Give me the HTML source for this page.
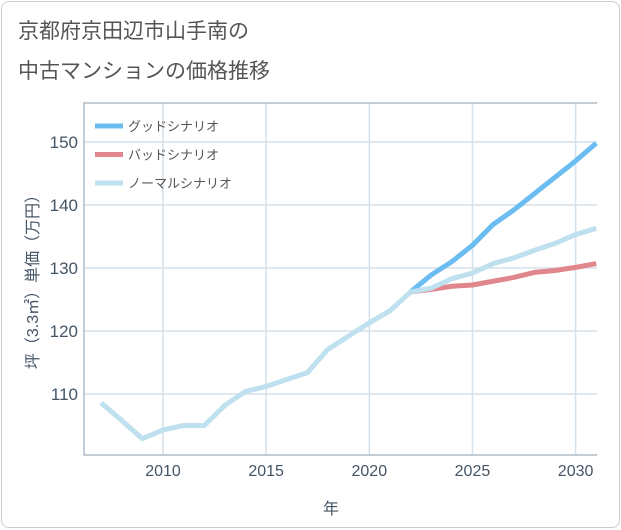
<!DOCTYPE html>
<html><head><meta charset="utf-8">
<style>
html,body{margin:0;padding:0;background:#fff;}
body{width:621px;height:530px;overflow:hidden;font-family:"Liberation Sans","Noto Sans CJK JP",sans-serif;}
.card{position:absolute;left:1px;top:1px;width:617px;height:525px;border:1px solid #ccc;border-radius:8px;background:#fff;}
</style></head>
<body>
<div class="card"></div>
<svg width="621" height="530" style="position:absolute;left:0;top:0">
<text x="18" y="38" font-size="21" fill="#555" font-weight="normal">京都府京田辺市山手南の</text>
<text x="18" y="78" font-size="21" fill="#555" font-weight="normal">中古マンションの価格推移</text>
<g id="grid"></g>
<g id="series"></g>
<g id="legend"></g>
<text transform="translate(38,278) rotate(-90)" text-anchor="middle" font-size="16" fill="#445566">坪（3.3㎡）単価（万円）</text>
<text x="331" y="514" text-anchor="middle" font-size="16" fill="#445566">年</text>
</svg>
<script>
const years=[2007,2008,2009,2010,2011,2012,2013,2014,2015,2016,2017,2018,2019,2020,2021,2022,2023,2024,2025,2026,2027,2028,2029,2030,2031];
const normal=[108.6,105.8,102.9,104.3,105,105,108.2,110.4,111.2,112.3,113.4,117.1,119.2,121.3,123.2,126.2,126.8,128.3,129.2,130.7,131.6,132.8,133.9,135.3,136.3];
const futureYears=[2022,2023,2024,2025,2026,2027,2028,2029,2030,2031];
const good=[126.2,128.9,131,133.6,136.9,139.2,141.8,144.4,147,149.8];
const bad=[126.2,126.6,127.1,127.3,127.9,128.5,129.3,129.6,130.1,130.7];
const xTicks=[2010,2015,2020,2025,2030];
const yTicks=[110,120,130,140,150];
const L=84,R=597,T=103,B=455;
const x=v=>163+(v-2010)*20.63;
const y=v=>142+(150-v)*6.3;
const NS='http://www.w3.org/2000/svg';
function mk(tag,attrs,parent){const e=document.createElementNS(NS,tag);for(const k in attrs)e.setAttribute(k,attrs[k]);parent.appendChild(e);return e;}
const g=document.getElementById('grid');
xTicks.forEach(t=>{
 const l=mk('line',{x1:x(t),x2:x(t),y1:T,y2:B,stroke:'#d5e1ea','stroke-width':1.5},g);
 
 
 const tx=mk('text',{x:x(t),y:B+21,'text-anchor':'middle','font-size':16,fill:'#445566'},g);
 tx.textContent=t;
 
 
});
yTicks.forEach(t=>{
 const l=mk('line',{x1:L,x2:R,y1:y(t),y2:y(t),stroke:'#d5e1ea','stroke-width':1.5},g);
 
 
 const tx=mk('text',{x:L-6,y:y(t)+6,'text-anchor':'end','font-size':17,fill:'#445566'},g);
 tx.textContent=t;
 
 
});
const fr=mk('path',{d:`M${R},${T}H${L}V${B}H${R}`,fill:'none',stroke:'#b0bcc6','stroke-width':1.5},g);


const s=document.getElementById('series');
function line(xs,vs,color,name){
 const p=mk('polyline',{points:xs.map((v,i)=>x(v)+','+y(vs[i])).join(' '),fill:'none',stroke:color,'stroke-width':5,'stroke-linejoin':'round'},s);
 
 
}
line(futureYears,good,'#6bbcf0','good-scenario-line');
line(futureYears,bad,'#e0868c','bad-scenario-line');
line(years,normal,'#bfe0ee','normal-scenario-line');
const lg=document.getElementById('legend');
[['グッドシナリオ','#6bbcf0','legend-good'],['バッドシナリオ','#e0868c','legend-bad'],['ノーマルシナリオ','#bfe0ee','legend-normal']].forEach((it,i)=>{
 const yy=126+i*28.5;
 const l=mk('line',{x1:95,x2:123,y1:yy,y2:yy,stroke:it[1],'stroke-width':5},lg);
 
 
 const t=mk('text',{x:128,y:yy+5,'font-size':13,fill:'#555'},lg);
 t.textContent=it[0];
 
 
});
</script>
</body></html>
